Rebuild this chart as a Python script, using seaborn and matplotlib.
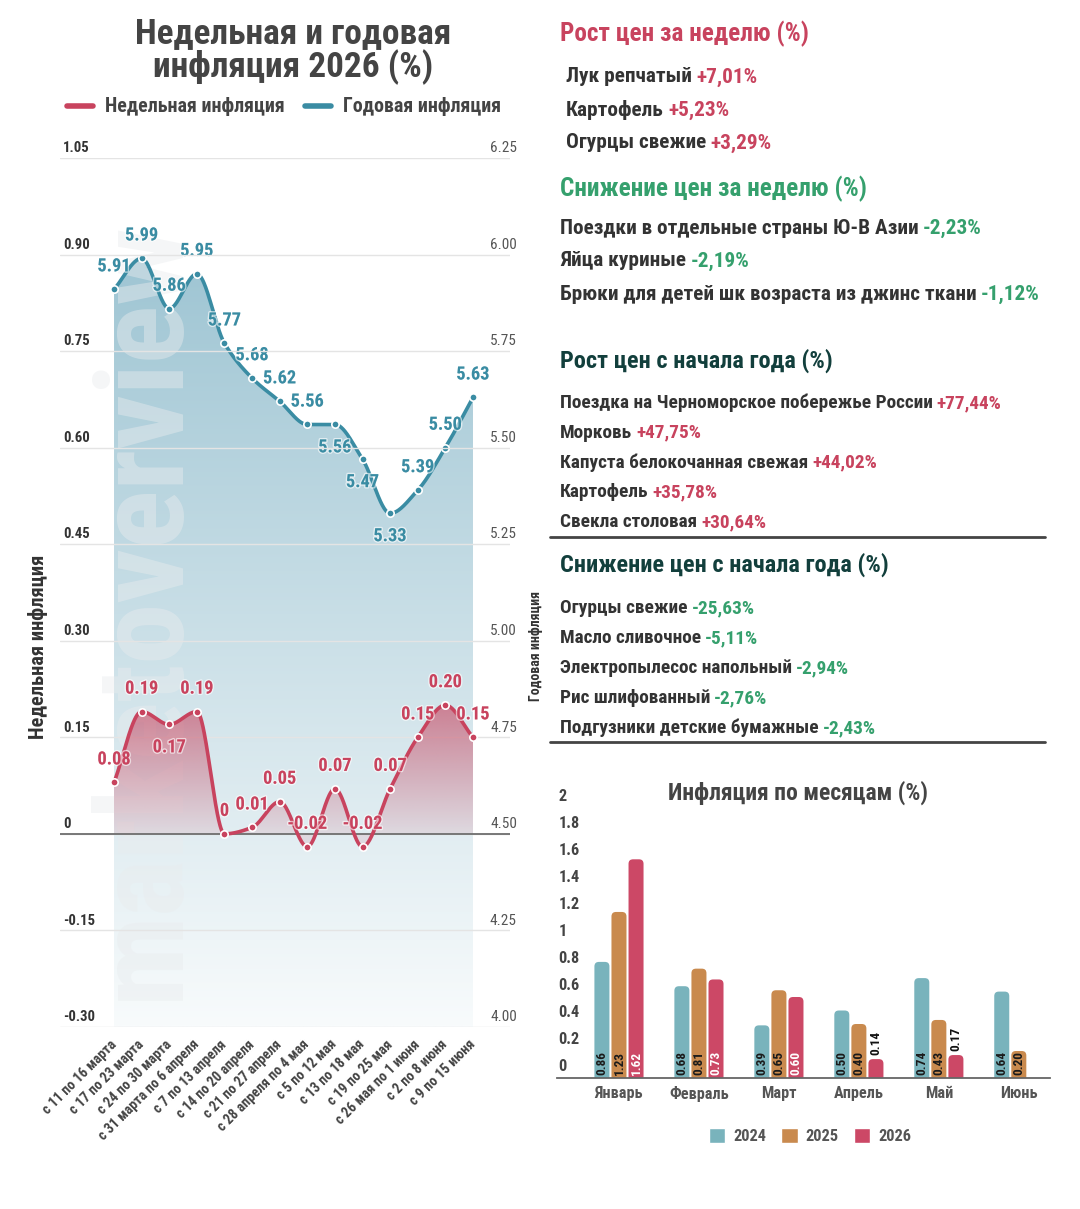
import numpy as np
import pandas as pd
import matplotlib
matplotlib.use("Agg")
import matplotlib.pyplot as plt
import seaborn as sns
from matplotlib import font_manager as fm
from matplotlib.lines import Line2D
from matplotlib.patches import Patch, FancyBboxPatch
from matplotlib.transforms import ScaledTranslation
import matplotlib.patheffects as pe

# ---------------- data ----------------
weeks = ["с 11 по 16 марта", "с 17 по 23 марта", "с 24 по 30 марта", "с 31 марта по 6 апреля",
         "с 7 по 13 апреля", "с 14 по 20 апреля", "с 21 по 27 апреля", "с 28 апреля по 4 мая",
         "с 5 по 12 мая", "с 13 по 18 мая", "с 19 по 25 мая", "с 26 мая по 1 июня",
         "с 2 по 8 июня", "с 9 по 15 июня"]
weekly = [0.08, 0.19, 0.17, 0.19, 0.00, 0.01, 0.05, -0.02, 0.07, -0.02, 0.07, 0.15, 0.20, 0.15]
annual = [5.91, 5.99, 5.86, 5.95, 5.77, 5.68, 5.62, 5.56, 5.56, 5.47, 5.33, 5.39, 5.50, 5.63]

months = ["Январь", "Февраль", "Март", "Апрель", "Май", "Июнь"]
years = ["2024", "2025", "2026"]
infl_2024 = [0.86, 0.68, 0.39, 0.50, 0.74, 0.64]
infl_2025 = [1.23, 0.81, 0.65, 0.40, 0.43, 0.20]
infl_2026 = [1.62, 0.73, 0.60, 0.14, 0.17, np.nan]

week_up_items = ["Лук репчатый", "Картофель", "Огурцы свежие"]
week_up_vals = ["+7,01%", "+5,23%", "+3,29%"]
week_down_items = ["Поездки в отдельные страны Ю-В Азии", "Яйца куриные",
                   "Брюки для детей шк возраста из джинс ткани"]
week_down_vals = ["-2,23%", "-2,19%", "-1,12%"]
ytd_up_items = ["Поездка на Черноморское побережье России", "Морковь",
                "Капуста белокочанная свежая", "Картофель", "Свекла столовая"]
ytd_up_vals = ["+77,44%", "+47,75%", "+44,02%", "+35,78%", "+30,64%"]
ytd_down_items = ["Огурцы свежие", "Масло сливочное", "Электропылесос напольный",
                  "Рис шлифованный", "Подгузники детские бумажные"]
ytd_down_vals = ["-25,63%", "-5,11%", "-2,94%", "-2,76%", "-2,43%"]

# ---------------- style ----------------
sns.set_theme(style="white")
names = {f.name for f in fm.fontManager.ttflist}
FONT = "Roboto Condensed" if "Roboto Condensed" in names else "Roboto"
CONDENSED = FONT == "Roboto Condensed"
plt.rcParams["font.family"] = [FONT, "DejaVu Sans"]
plt.rcParams["font.weight"] = "bold"
K = 1.0 if CONDENSED else 0.88

RED = "#c8435e"
TEAL = "#3a8ca3"
GREEN = "#35a06d"
DARK = "#333333"
GRAY = "#444444"
C24, C25, C26 = "#79b3bc", "#c98a4e", "#cc4866"

W, H = 1080, 1209
fig = plt.figure(figsize=(W / 100, H / 100), dpi=100)
fig.patch.set_facecolor("white")


def fx(x):
    return x / W


def fy(y):
    return 1 - y / H


def pchip(x, y, xn):
    x = np.asarray(x, float)
    y = np.asarray(y, float)
    h = np.diff(x)
    d = np.diff(y) / h
    m = np.zeros_like(y)
    for k in range(1, len(y) - 1):
        if d[k - 1] * d[k] > 0:
            w1 = 2 * h[k] + h[k - 1]
            w2 = h[k] + 2 * h[k - 1]
            m[k] = (w1 + w2) / (w1 / d[k - 1] + w2 / d[k])
    m[0] = d[0]
    m[-1] = d[-1]
    idx = np.clip(np.searchsorted(x, xn) - 1, 0, len(x) - 2)
    t = (xn - x[idx]) / h[idx]
    h00 = 2 * t**3 - 3 * t**2 + 1
    h10 = t**3 - 2 * t**2 + t
    h01 = -2 * t**3 + 3 * t**2
    h11 = t**3 - t**2
    return h00 * y[idx] + h10 * h[idx] * m[idx] + h01 * y[idx + 1] + h11 * h[idx] * m[idx + 1]


# ---------------- left chart ----------------
ax = fig.add_axes([fx(60), fy(1027), fx(450), 869 / H])
ax2 = ax.twinx()
ax.set_zorder(2)
ax2.set_zorder(1)
ax.patch.set_visible(False)

idx = np.arange(len(weeks))
xd = np.linspace(0, len(weeks) - 1, 800)
wk_d = pchip(idx, weekly, xd)
an_d = pchip(idx, annual, xd)

XL = (-54 / 27.6, 13 + 37 / 27.6)
ax.set_xlim(*XL)
ax.set_ylim(-0.30, 1.05)
ax2.set_ylim(4.00, 6.25)

# annual gradient fill
coll = ax2.fill_between(xd, an_d, 4.0, color="none", linewidth=0)
top = np.array([0x93, 0xbe, 0xce]) / 255
bot = np.array([0xf8, 0xfb, 0xfc]) / 255
tt = np.linspace(0, 1, 256)[:, None, None]
grad = bot + (top - bot) * tt
im = ax2.imshow(grad, extent=[0, len(weeks) - 1, 4.0, 6.25], origin="lower",
                aspect="auto", zorder=1, interpolation="bilinear")
im.set_clip_path(coll.get_paths()[0], transform=ax2.transData)

# watermark
ax2.text(1.1, 5.08, "marketoverview", rotation=90, fontsize=88 * K, color="#e9ecee",
         alpha=0.45, ha="center", va="center", zorder=1.5, fontweight="bold")

sns.lineplot(x=xd, y=an_d, ax=ax2, color=TEAL, linewidth=2.6, sort=False, zorder=3)
sns.scatterplot(x=idx, y=annual, ax=ax2, color=TEAL, s=28, edgecolor="white",
                linewidth=1.2, zorder=4)
below_annual = {8, 9, 10}
for i, v in enumerate(annual):
    off = -16.5 if i in below_annual else 16.5
    ax2.annotate(f"{v:.2f}", (i, v), xytext=(0, off), textcoords="offset points",
                 ha="center", va="center", fontsize=13.2 * K, color=TEAL, fontweight="bold",
                 zorder=5, path_effects=[pe.withStroke(linewidth=2, foreground=(1, 1, 1, 0.6))])

# weekly gradient fill
coll2 = ax.fill_between(xd, wk_d, 0, color="none", linewidth=0)
ys = np.linspace(-0.05, 0.22, 256)
alpha = np.clip(0.12 + 0.5 * np.clip(ys, 0, None) / 0.2, 0, 0.62)
rc = matplotlib.colors.to_rgb(RED)
rg = np.zeros((256, 1, 4))
rg[..., 0], rg[..., 1], rg[..., 2] = rc
rg[:, 0, 3] = alpha
im2 = ax.imshow(rg, extent=[0, len(weeks) - 1, -0.05, 0.22], origin="lower",
                aspect="auto", zorder=1, interpolation="bilinear")
im2.set_clip_path(coll2.get_paths()[0], transform=ax.transData)

sns.lineplot(x=xd, y=wk_d, ax=ax, color=RED, linewidth=2.6, sort=False, zorder=3)
sns.scatterplot(x=idx, y=weekly, ax=ax, color=RED, s=28, edgecolor="white",
                linewidth=1.2, zorder=4)
below_weekly = {2}
for i, v in enumerate(weekly):
    off = -16.5 if i in below_weekly else 16.5
    lab = "0" if v == 0 else f"{v:.2f}"
    ax.annotate(lab, (i, v), xytext=(0, off), textcoords="offset points",
                ha="center", va="center", fontsize=13.2 * K, color=RED, fontweight="bold",
                zorder=5, path_effects=[pe.withStroke(linewidth=2, foreground=(1, 1, 1, 0.6))])

ax.set_xlim(*XL)
ax.set_ylim(-0.30, 1.05)
ax2.set_xlim(*XL)
ax2.set_ylim(4.00, 6.25)

lt = np.round(np.arange(-0.30, 1.051, 0.15), 2)
ax.set_yticks(lt)
ax.set_yticklabels(["0" if abs(v) < 1e-9 else f"{v:.2f}" for v in lt])
rt = np.round(np.arange(4.0, 6.251, 0.25), 2)
ax2.set_yticks(rt)
ax2.set_yticklabels([f"{v:.2f}" for v in rt])
ax.grid(axis="y", color="#e4e4e4", linewidth=1)
ax.grid(axis="x", visible=False)
ax2.grid(False)
ax.axhline(0, color="#6e6e6e", linewidth=1.3, zorder=2)
for s in ax.spines.values():
    s.set_visible(False)
for s in ax2.spines.values():
    s.set_visible(False)

ax.tick_params(axis="y", length=0, pad=-2, labelsize=10.6 * K, labelcolor=DARK)
ax2.tick_params(axis="y", length=0, pad=5, labelsize=11 * K, labelcolor="#555555")
up = ScaledTranslation(0, 2 / 72, fig.dpi_scale_trans)
for t in ax.get_yticklabels():
    t.set_ha("left")
    t.set_va("bottom")
    t.set_fontweight("bold")
    t.set_transform(t.get_transform() + up)
for t in ax2.get_yticklabels():
    t.set_ha("right")
    t.set_va("bottom")
    t.set_fontweight("normal")
    t.set_transform(t.get_transform() + up)

ax.set_xticks(idx)
ax.set_xticklabels(weeks, rotation=45, ha="right", rotation_mode="anchor",
                   fontsize=10.2 * K, color=GRAY, fontweight="bold")
ax.tick_params(axis="x", length=0, pad=11)
for t in ax.get_xticklabels():
    t.set_va("center")

ax.set_ylabel("Недельная инфляция", fontsize=14.8 * K, color=DARK, fontweight="bold")
ax.yaxis.set_label_coords(-0.027, 0.438)
ax2.set_ylabel("Годовая инфляция", fontsize=10 * K, color=DARK, fontweight="bold", rotation=90)
ax2.yaxis.set_label_coords(1.043, 0.438)

fig.text(fx(293), fy(51), "Недельная и годовая\nинфляция 2026 (%)", ha="center", va="center",
         fontsize=25.5 * K, color=GRAY, fontweight="bold", linespacing=0.98)
leg_handles = [Line2D([0], [0], color=RED, lw=4), Line2D([0], [0], color=TEAL, lw=4)]
fig.legend(leg_handles, ["Недельная инфляция", "Годовая инфляция"], loc="center",
           bbox_to_anchor=(fx(284), fy(107)), ncol=2, frameon=False,
           handlelength=1.3, columnspacing=1.0, handletextpad=0.6,
           prop={"weight": "bold", "size": 14.4 * K}, labelcolor=GRAY)

# ---------------- right text panel ----------------
renderer = fig.canvas.get_renderer()


def two_tone(x, y, a, b, size, ca, cb):
    t1 = fig.text(fx(x), fy(y), a, fontsize=size, color=ca, fontweight="bold",
                  ha="left", va="center")
    bb = t1.get_window_extent(renderer=renderer)
    gap = size * 0.28
    fig.text((bb.x1 + gap) / W, fy(y), b, fontsize=size, color=cb, fontweight="bold",
             ha="left", va="center")


hs = 18.2 * K
isz = 15.3 * K
isz2 = 13.9 * K
hs2 = 17.5 * K
HEAD2 = "#123f3c"

fig.text(fx(560), fy(34), "Рост цен за неделю (%)", fontsize=hs, color=RED,
         fontweight="bold", va="center")
for k, (a, b) in enumerate(zip(week_up_items, week_up_vals)):
    two_tone(566, 77 + 33 * k, a, b, isz, DARK, RED)
fig.text(fx(560), fy(189), "Снижение цен за неделю (%)", fontsize=hs, color=GREEN,
         fontweight="bold", va="center")
for k, (a, b) in enumerate(zip(week_down_items, week_down_vals)):
    two_tone(560, 228 + 33 * k, a, b, isz, DARK, GREEN)

fig.text(fx(560), fy(361), "Рост цен с начала года (%)", fontsize=hs2, color=HEAD2,
         fontweight="bold", va="center")
for k, (a, b) in enumerate(zip(ytd_up_items, ytd_up_vals)):
    two_tone(560, 403 + 29.8 * k, a, b, isz2, DARK, RED)
fig.add_artist(Line2D([fx(550), fx(1045)], [fy(537), fy(537)], color="#444444", lw=2))
fig.text(fx(560), fy(565), "Снижение цен с начала года (%)", fontsize=hs2, color=HEAD2,
         fontweight="bold", va="center")
for k, (a, b) in enumerate(zip(ytd_down_items, ytd_down_vals)):
    two_tone(560, 608 + 30 * k, a, b, isz2, DARK, GREEN)
fig.add_artist(Line2D([fx(550), fx(1045)], [fy(742), fy(742)], color="#444444", lw=2))

# ---------------- monthly bar chart ----------------
axb = fig.add_axes([fx(557), fy(1078), fx(493), 270 / H])
df = pd.DataFrame({
    "month": months * 3,
    "year": [y for y in years for _ in months],
    "value": infl_2024 + infl_2025 + infl_2026,
})
pal = {"2024": C24, "2025": C25, "2026": C26}
sns.barplot(data=df, x="month", y="value", hue="year", hue_order=years, palette=pal,
            width=0.64, gap=0.12, ax=axb, legend=False, saturation=1, order=months)
axb.set_xlim(-0.775, 5.39)
axb.set_ylim(0, 2.0)

# round the bar tops (bars from seaborn, reshaped only)
px_x = fx(493) * W / (5.39 + 0.775)
px_y = 270 / 2.0
for p in list(axb.patches):
    x0, y0, w, h = p.get_x(), p.get_y(), p.get_width(), p.get_height()
    if not np.isfinite(h) or h <= 0:
        continue
    ext = 0.05
    rb = FancyBboxPatch((x0, y0 - ext), w, h + ext,
                        boxstyle=f"round,pad=0,rounding_size={w * 0.3}",
                        mutation_aspect=px_x / px_y, facecolor=p.get_facecolor(),
                        edgecolor="none", zorder=p.get_zorder())
    p.set_visible(False)
    axb.add_patch(rb)

bt = np.round(np.arange(0, 2.01, 0.2), 1)
axb.set_yticks(bt)
axb.set_yticklabels([f"{v:g}" for v in bt])
axb.tick_params(axis="y", length=0, pad=-1, labelsize=11.7 * K, labelcolor=GRAY)
up2 = ScaledTranslation(0, 3 / 72, fig.dpi_scale_trans)
for t in axb.get_yticklabels():
    t.set_ha("left")
    t.set_va("bottom")
    t.set_fontweight("bold")
    t.set_transform(t.get_transform() + up2)
axb.tick_params(axis="x", length=0, pad=6, labelsize=11.7 * K, labelcolor="#555555")
for t in axb.get_xticklabels():
    t.set_fontweight("bold")
axb.set_xlabel("")
axb.set_ylabel("")
axb.grid(False)
for n, s in axb.spines.items():
    s.set_visible(n == "bottom")
axb.spines["bottom"].set_color("#666666")
axb.spines["bottom"].set_linewidth(1.3)
axb.spines["bottom"].set_zorder(5)

step = 0.64 / 3
series = {"2024": infl_2024, "2025": infl_2025, "2026": infl_2026}
for j, yr in enumerate(years):
    for i, v in enumerate(series[yr]):
        if np.isnan(v):
            continue
        xpos = i + (j - 1) * step
        if yr == "2026" and v < 0.3:
            axb.text(xpos, v + 0.03, f"{v:.2f}", rotation=90, ha="center", va="bottom",
                     fontsize=9.5 * K, color="#111111", fontweight="bold", zorder=6)
        else:
            col = "white" if yr == "2026" else "#1a1a1a"
            axb.text(xpos, 0.02, f"{v:.2f}", rotation=90, ha="center", va="bottom",
                     fontsize=9.5 * K, color=col, fontweight="bold", zorder=6)

fig.text(fx(798), fy(793), "Инфляция по месяцам (%)", ha="center", va="center",
         fontsize=17 * K, color=GRAY, fontweight="bold")
bh = [Patch(facecolor=pal[y]) for y in years]
fig.legend(bh, years, loc="center", bbox_to_anchor=(fx(810), fy(1136)), ncol=3,
           frameon=False, handlelength=1.0, handleheight=1.0, columnspacing=0.9,
           handletextpad=0.5, prop={"weight": "bold", "size": 11.8 * K}, labelcolor="#555555")

fig.savefig("out.png", dpi=100, facecolor="white")
